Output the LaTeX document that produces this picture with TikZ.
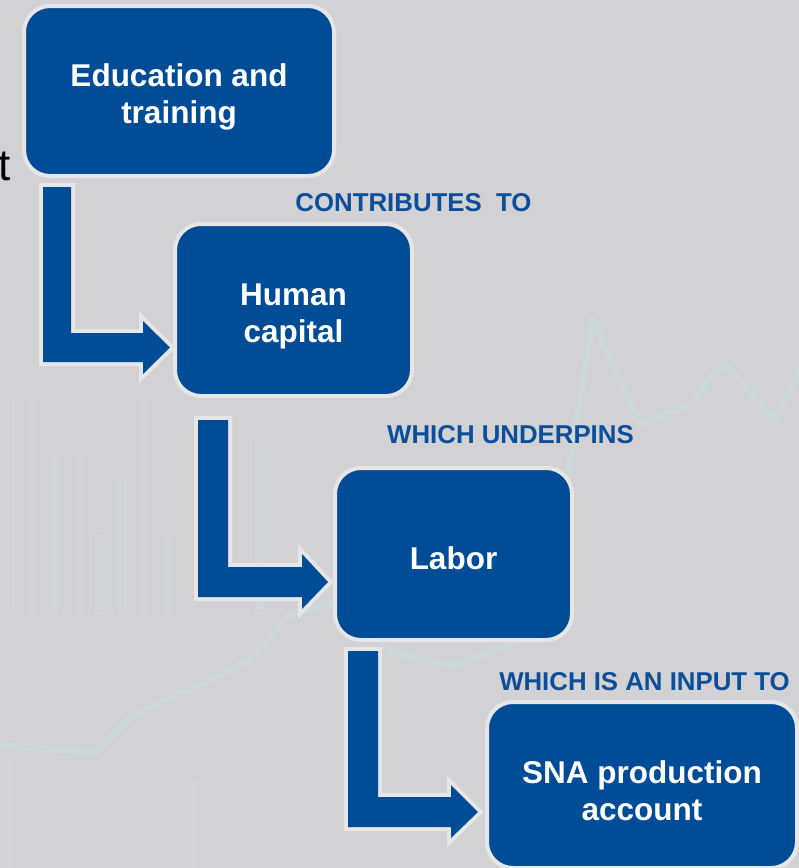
\documentclass[tikz,border=0pt]{standalone}
\usepackage{fontspec}
\setmainfont{Liberation Sans}
\definecolor{bg}{HTML}{D2D2D4}
\definecolor{boxblue}{HTML}{004C97}
\definecolor{lblblue}{HTML}{0C4E99}
\definecolor{edgegray}{HTML}{E6E6E6}
\definecolor{chartline}{HTML}{CCDADB}
\definecolor{chartbar}{HTML}{D5DBDD}
\tikzset{
  stagebox/.style={draw=edgegray, line width=4pt, fill=boxblue, rounded corners=26pt, inner sep=0pt},
  boxtext/.style={text=white, align=center, inner sep=0pt,
    font=\fontsize{31.5}{37}\selectfont\bfseries},
  linklabel/.style={text=lblblue, inner sep=0pt, font=\fontsize{25.8}{30}\selectfont\bfseries},
  blockarrow/.style={fill=boxblue, preaction={draw=edgegray, line width=8pt, line join=miter}},
}
\begin{document}
\begin{tikzpicture}[x=1pt, y=-1pt]
\useasboundingbox (0,0) rectangle (799,868);
\fill[bg] (0,0) rectangle (799,868);
% faint background chart
\begin{scope}[chartbar, opacity=0.4]
\fill (8,400) rectangle (15,615);
\fill (28,400) rectangle (35,615);
\fill (50,455) rectangle (58,615);
\fill (76,455) rectangle (83,615);
\fill (95,535) rectangle (104,615);
\fill (118,480) rectangle (127,615);
\fill (140,400) rectangle (148,615);
\fill (165,535) rectangle (172,615);
\fill (255,440) rectangle (264,615);
\fill (8,760) rectangle (14,868);
\fill (192,780) rectangle (198,868);
\end{scope}
\draw[chartline, opacity=0.8, line width=7pt, line join=round] (-5,745) -- (95,752) -- (130,718) -- (250,660) -- (290,615) -- (340,600) -- (390,652) -- (455,666) -- (520,640) -- (567,480) -- (593,320) -- (640,425) -- (690,405) -- (723,363) -- (775,420) -- (805,360);
% partial text at left edge
\node[anchor=base east, inner sep=0pt, font=\fontsize{44}{50}\selectfont] (tfrag) at (11,180) {t};
% block arrows
\fill[blockarrow] (43,187) -- (71,187) -- (71,333) -- (143,333) -- (143,321) -- (170,347.5) -- (143,374) -- (143,362) -- (43,362) -- cycle;
\fill[blockarrow] (198,420) -- (228,420) -- (228,567) -- (302,567) -- (302,554) -- (328,582) -- (302,609) -- (302,597) -- (198,597) -- cycle;
\fill[blockarrow] (348,651) -- (378,651) -- (378,797) -- (451,797) -- (451,785) -- (478,812) -- (451,838) -- (451,827) -- (348,827) -- cycle;
% boxes
\node[stagebox, minimum width=310pt, minimum height=170pt] (b1) at (179,91) {};
\node[stagebox, minimum width=237pt, minimum height=172pt] (b2) at (293.5,310) {};
\node[stagebox, minimum width=237pt, minimum height=172pt] (b3) at (453.5,554) {};
\node[stagebox, minimum width=310pt, minimum height=166pt] (b4) at (642,785) {};
\node[boxtext] (t1) at ([yshift=-6pt]b1.center) {Education and\\training};
\node[boxtext] (t2) at ([yshift=-6pt]b2.center) {Human\\capital};
\node[boxtext] (t3) at ([yshift=-4pt]b3.center) {Labor};
\node[boxtext] (t4) at ([yshift=-6pt]b4.center) {SNA production\\account};
% labels
\node[linklabel] (l1) at (413.5,203) {CONTRIBUTES\ \ TO};
\node[linklabel] (l2) at (510.5,435) {WHICH UNDERPINS};
\node[linklabel] (l3) at (644.5,682) {WHICH IS AN INPUT TO};
\end{tikzpicture}
\end{document}
